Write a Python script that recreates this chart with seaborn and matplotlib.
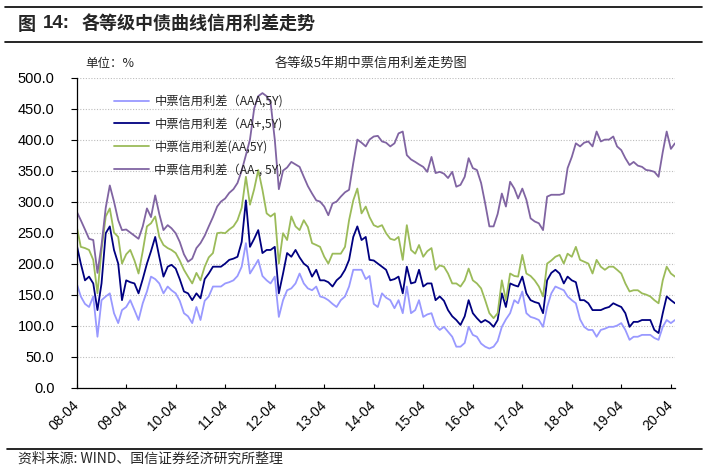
import numpy as np
import pandas as pd
import matplotlib
matplotlib.use('Agg')
import matplotlib.pyplot as plt
import matplotlib.dates as mdates
from matplotlib.lines import Line2D
import seaborn as sns

# ---------------- data (monthly, 2008-04 .. 2020-05) ----------------
start_month = '2008-04-01'

aaa = [168, 147, 135, 130, 147, 82, 141, 147, 152, 120, 104, 125,
       130, 141, 125, 109, 136, 155, 179, 175, 168, 152, 163, 157,
       152, 140, 120, 115, 104, 130, 109, 140, 147, 163, 163, 163,
       168, 170, 173, 180, 195, 233, 184, 195, 206, 180, 173, 168,
       179, 114, 141, 157, 160, 168, 184, 168, 160, 157, 163, 147,
       145, 141, 135, 130, 141, 147, 163, 190, 190, 190, 175, 180,
       135, 130, 152, 145, 141, 128, 141, 120, 163, 120, 125, 141,
       114, 118, 120, 100, 93, 98, 90, 82, 66, 66, 72, 98,
       85, 82, 71, 66, 63, 66, 75, 98, 110, 120, 141, 136,
       155, 120, 114, 112, 109, 98, 130, 152, 163, 160, 157, 147,
       141, 136, 110, 98, 93, 93, 82, 93, 95, 98, 98, 100,
       104, 93, 77, 82, 82, 85, 85, 85, 80, 77, 98, 109,
       104, 109]

aa_plus = [230, 200, 173, 179, 168, 125, 168, 249, 260, 222, 200, 141,
           173, 170, 168, 152, 175, 200, 220, 243, 211, 179, 195, 198,
           192, 175, 155, 152, 141, 152, 144, 175, 184, 195, 195, 195,
           200, 206, 208, 211, 235, 302, 227, 240, 254, 217, 222, 222,
           227, 152, 184, 217, 211, 222, 210, 200, 195, 179, 190, 173,
           173, 170, 163, 173, 179, 190, 206, 243, 260, 238, 243, 206,
           205, 200, 195, 190, 173, 175, 179, 152, 195, 168, 170, 190,
           163, 168, 168, 141, 147, 140, 125, 115, 109, 101, 115, 141,
           120, 112, 105, 109, 105, 98, 109, 152, 130, 168, 165, 163,
           179, 152, 141, 138, 136, 120, 173, 185, 190, 184, 168, 179,
           173, 170, 141, 141, 136, 125, 125, 125, 128, 130, 136, 133,
           130, 120, 98, 106, 106, 109, 109, 109, 93, 88, 120, 147,
           141, 136]

aa = [260, 227, 225, 222, 206, 152, 222, 276, 289, 250, 243, 200,
      215, 222, 205, 184, 220, 260, 265, 276, 243, 230, 225, 222,
      217, 205, 190, 179, 168, 185, 173, 195, 210, 217, 249, 250,
      249, 255, 260, 270, 290, 340, 295, 320, 351, 319, 281, 276,
      281, 200, 249, 238, 276, 260, 254, 270, 259, 233, 230, 227,
      211, 200, 216, 216, 216, 227, 270, 302, 321, 281, 292, 275,
      262, 259, 262, 249, 240, 238, 243, 206, 262, 222, 216, 230,
      211, 220, 225, 190, 197, 195, 184, 168, 168, 163, 173, 192,
      173, 168, 160, 141, 120, 112, 120, 173, 141, 184, 180, 179,
      214, 184, 180, 173, 163, 147, 200, 205, 211, 214, 200, 216,
      211, 227, 206, 203, 200, 184, 206, 195, 190, 195, 195, 190,
      184, 168, 155, 157, 157, 152, 150, 147, 141, 136, 173, 195,
      184, 179]

aa_minus = [284, 270, 255, 240, 238, 185, 230, 290, 326, 300, 270, 254,
            255, 250, 245, 240, 260, 289, 275, 310, 280, 254, 262, 257,
            249, 235, 215, 203, 208, 225, 233, 245, 260, 275, 292, 300,
            305, 314, 320, 330, 350, 375, 400, 450, 470, 475, 470, 460,
            400, 320, 350, 355, 364, 360, 356, 340, 325, 313, 302, 300,
            292, 278, 297, 300, 308, 315, 319, 362, 400, 395, 389, 400,
            405, 406, 397, 395, 389, 394, 410, 413, 375, 368, 364, 360,
            356, 348, 372, 346, 348, 345, 338, 348, 324, 327, 340, 370,
            354, 351, 330, 297, 260, 260, 280, 313, 292, 332, 321, 305,
            321, 303, 273, 268, 265, 254, 308, 311, 311, 311, 313, 354,
            372, 394, 389, 395, 397, 389, 413, 397, 400, 400, 405, 389,
            383, 370, 359, 364, 358, 356, 351, 350, 348, 340, 380, 413,
            385, 394]

series_names = ["中票信用利差（AAA,5Y)", "中票信用利差（AA+,5Y)",
                "中票信用利差(AA,5Y)", "中票信用利差（AA-, 5Y)"]
series_colors = ['#9999FF', '#000080', '#9BBB59', '#8064A2']
y_ticks = [0, 50, 100, 150, 200, 250, 300, 350, 400, 450, 500]
x_tick_years = list(range(2008, 2021))

fig_title_num = "图"
fig_title_idx = "14:"
fig_title_txt = "各等级中债曲线信用利差走势"
unit_label = "单位：%"
chart_title = "各等级5年期中票信用利差走势图"
source_text = "资料来源: WIND、国信证券经济研究所整理"

# ---------------- build table ----------------
dates = pd.date_range(start_month, periods=len(aaa), freq='MS')
frames = []
for name, vals in zip(series_names, [aaa, aa_plus, aa, aa_minus]):
    frames.append(pd.DataFrame({'date': dates, 'value': vals, 'series': name}))
df = pd.concat(frames, ignore_index=True)

# ---------------- plot ----------------
sns.set_theme(style='white')
plt.rcParams['font.family'] = ['Noto Sans CJK SC', 'DejaVu Sans']
plt.rcParams['axes.unicode_minus'] = False

fig = plt.figure(figsize=(7.15, 4.74), dpi=100)
ax = fig.add_axes([0.1073, 0.1823, 0.944 - 0.1073, 0.8363 - 0.1823])

sns.lineplot(data=df, x='date', y='value', hue='series',
             hue_order=series_names, palette=series_colors,
             linewidth=1.3, ax=ax, legend=True)

ax.set_ylim(0, 500)
ax.set_xlim(dates[0], dates[-1])
ax.set_yticks(y_ticks)
ax.set_yticklabels([f"{v:.1f}" for v in y_ticks], fontfamily='Liberation Sans', fontsize=10.5)
xt = [pd.Timestamp(f"{y}-04-01") for y in x_tick_years]
ax.set_xticks(xt)
ax.set_xticklabels([t.strftime('%y-%m') for t in xt], fontfamily='Liberation Sans',
                   fontsize=10, rotation=45, ha='right', va='center', rotation_mode='anchor')
ax.set_xlabel('')
ax.set_ylabel('')

ax.tick_params(axis='y', direction='out', length=4, width=0.8, pad=12, colors='black', left=True)
ax.tick_params(axis='x', direction='in', length=3, width=0.8, pad=11, colors='black', bottom=True)

ax.yaxis.grid(True, linestyle=(0, (1, 1.5)), color='#bdbdbd', linewidth=0.8)
ax.xaxis.grid(False)
for s in ['top', 'right']:
    ax.spines[s].set_visible(False)
for s in ['left', 'bottom']:
    ax.spines[s].set_color('black')
    ax.spines[s].set_linewidth(0.9)

handles, labels = ax.get_legend_handles_labels()
ax.legend(handles, labels, loc='upper left', bbox_to_anchor=(114 / 715, 0.800),
          bbox_transform=fig.transFigure, frameon=False, fontsize=8.8,
          borderpad=0, borderaxespad=0, handlelength=2.9, handletextpad=0.4,
          labelspacing=0.8)

# ---------------- figure decorations ----------------
for yy, x0, x1 in [(7, 5, 702), (42, 5, 702), (449, 7, 702)]:
    fig.add_artist(Line2D([x0 / 715, x1 / 715], [1 - yy / 474, 1 - yy / 474],
                          transform=fig.transFigure, color='black', linewidth=1.2))

fig.text(18 / 715, 1 - 24 / 474, fig_title_num, fontsize=13, fontweight='bold', va='center', ha='left')
fig.text(43 / 715, 1 - 24 / 474, fig_title_idx, fontsize=13.5, fontweight='bold', va='center', ha='left',
         family=['Liberation Sans', 'DejaVu Sans'])
fig.text(82 / 715, 1 - 24 / 474, fig_title_txt, fontsize=13, fontweight='bold', va='center', ha='left')

fig.text(85 / 715, 1 - 64 / 474, unit_label, fontsize=9, va='center', ha='left')
fig.text(371 / 715, 1 - 64 / 474, chart_title, fontsize=9.5, va='center', ha='center')
fig.text(18 / 715, 1 - 459 / 474, source_text, fontsize=10, va='center', ha='left')

fig.savefig('out.png', dpi=100)
